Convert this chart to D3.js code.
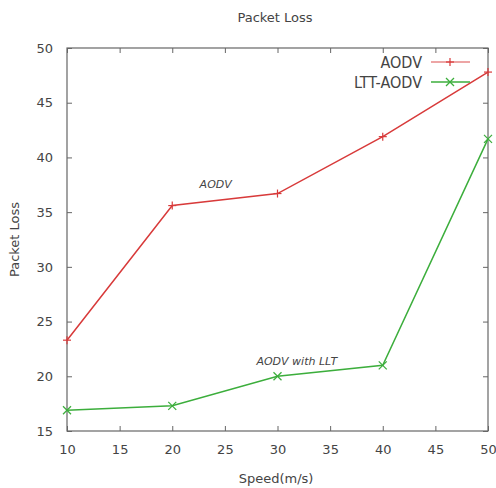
<!DOCTYPE html>
<html lang="en">
<head>
<meta charset="UTF-8">
<title>Packet Loss</title>
<style>
  body { margin: 0; background: #fff; }
  svg text { font-family: "DejaVu Sans", sans-serif; fill: #444; }
</style>
</head>
<body>
<div id="chart"></div>
<script src="https://d3js.org/d3.v7.min.js"></script>
<script>
const speeds = [10, 20, 30, 40, 50];
const aodv = [23.3, 35.6, 36.7, 41.9, 47.8];
const lttAodv = [16.9, 17.3, 20.0, 21.0, 41.7];
const xTicks = [10, 15, 20, 25, 30, 35, 40, 45, 50];
const yTicks = [15, 20, 25, 30, 35, 40, 45, 50];

const W = 496, H = 488;
const margin = {top: 48, right: 8, bottom: 57, left: 67};
const width = W - margin.left - margin.right,
      height = H - margin.top - margin.bottom;

const svg = d3.select("#chart").append("svg")
  .attr("width", W).attr("height", H);
const g = svg.append("g")
  .attr("transform", `translate(${margin.left},${margin.top})`);

const x = d3.scaleLinear().domain([10, 50]).range([0, width]);
const y = d3.scaleLinear().domain([15, 50]).range([height, 0]);

// frame with inward ticks on all four sides
g.append("rect").attr("width", width).attr("height", height)
  .attr("fill", "none").attr("stroke", "#666").attr("stroke-width", 1.2);

const tk = 5;
g.append("g").attr("transform", `translate(0,${height})`)
  .call(d3.axisBottom(x).tickValues(xTicks).tickSize(-tk).tickPadding(14))
  .call(a => a.select(".domain").remove())
  .call(a => a.selectAll("line").attr("stroke", "#666"))
  .call(a => a.selectAll("text").style("font-size", "13px"));
g.append("g")
  .call(d3.axisTop(x).tickValues(xTicks).tickSize(-tk).tickFormat(""))
  .call(a => a.select(".domain").remove())
  .call(a => a.selectAll("line").attr("stroke", "#666"));
g.append("g")
  .call(d3.axisLeft(y).tickValues(yTicks).tickSize(-tk).tickPadding(14))
  .call(a => a.select(".domain").remove())
  .call(a => a.selectAll("line").attr("stroke", "#666"))
  .call(a => a.selectAll("text").style("font-size", "13px"));
g.append("g").attr("transform", `translate(${width},0)`)
  .call(d3.axisRight(y).tickValues(yTicks).tickSize(-tk).tickFormat(""))
  .call(a => a.select(".domain").remove())
  .call(a => a.selectAll("line").attr("stroke", "#666"));

const line = d3.line().x((d, i) => x(speeds[i])).y(d => y(d));

const series = [
  {name: "AODV", values: aodv, color: "#d83a3a", mark: "plus"},
  {name: "LTT-AODV", values: lttAodv, color: "#3cae3c", mark: "cross"}
];

function marker(sel, type, color) {
  const s = 4;
  sel.each(function() {
    const m = d3.select(this);
    if (type === "plus") {
      m.append("line").attr("x1", -s).attr("x2", s);
      m.append("line").attr("y1", -s).attr("y2", s);
    } else {
      m.append("line").attr("x1", -s).attr("y1", -s).attr("x2", s).attr("y2", s);
      m.append("line").attr("x1", -s).attr("y1", s).attr("x2", s).attr("y2", -s);
    }
    m.selectAll("line").attr("stroke", color).attr("stroke-width", 1.2);
  });
}

series.forEach(s => {
  g.append("path").datum(s.values)
    .attr("fill", "none").attr("stroke", s.color).attr("stroke-width", 1.5)
    .attr("d", line);
  g.selectAll(null).data(s.values).enter().append("g")
    .attr("transform", (d, i) => `translate(${x(speeds[i])},${y(d)})`)
    .call(sel => marker(sel, s.mark, s.color));
});

// legend
const legend = svg.append("g");
series.forEach((s, i) => {
  const ly = 62 + i * 20;
  legend.append("text").attr("x", 422).attr("y", ly).attr("dy", "0.35em")
    .attr("text-anchor", "end")
    .style("font-family", "'Liberation Sans Narrow', 'DejaVu Sans Condensed', sans-serif")
    .style("font-size", "16px").text(s.name);
  legend.append("line").attr("x1", 431).attr("x2", 470).attr("y1", ly).attr("y2", ly)
    .attr("stroke", s.color).attr("stroke-width", 1.5).attr("opacity", i === 0 ? 0.6 : 1);
  legend.append("g").attr("transform", `translate(450,${ly})`)
    .call(sel => marker(sel, s.mark, s.color));
});

// annotations
g.append("text").attr("x", x(22.6)).attr("y", y(37.2))
  .style("font-size", "11px").style("font-style", "italic").text("AODV");
g.append("text").attr("x", x(28.0)).attr("y", y(21.0))
  .style("font-size", "11px").style("font-style", "italic").text("AODV with LLT");

// titles
svg.append("text").attr("x", 275).attr("y", 22).attr("text-anchor", "middle")
  .style("font-size", "13px").text("Packet Loss");
svg.append("text").attr("x", 276).attr("y", 483).attr("text-anchor", "middle")
  .style("font-size", "13px").text("Speed(m/s)");
svg.append("text").attr("transform", `translate(19,${margin.top + height / 2}) rotate(-90)`)
  .attr("text-anchor", "middle").style("font-size", "13px").text("Packet Loss");
</script>
</body>
</html>
